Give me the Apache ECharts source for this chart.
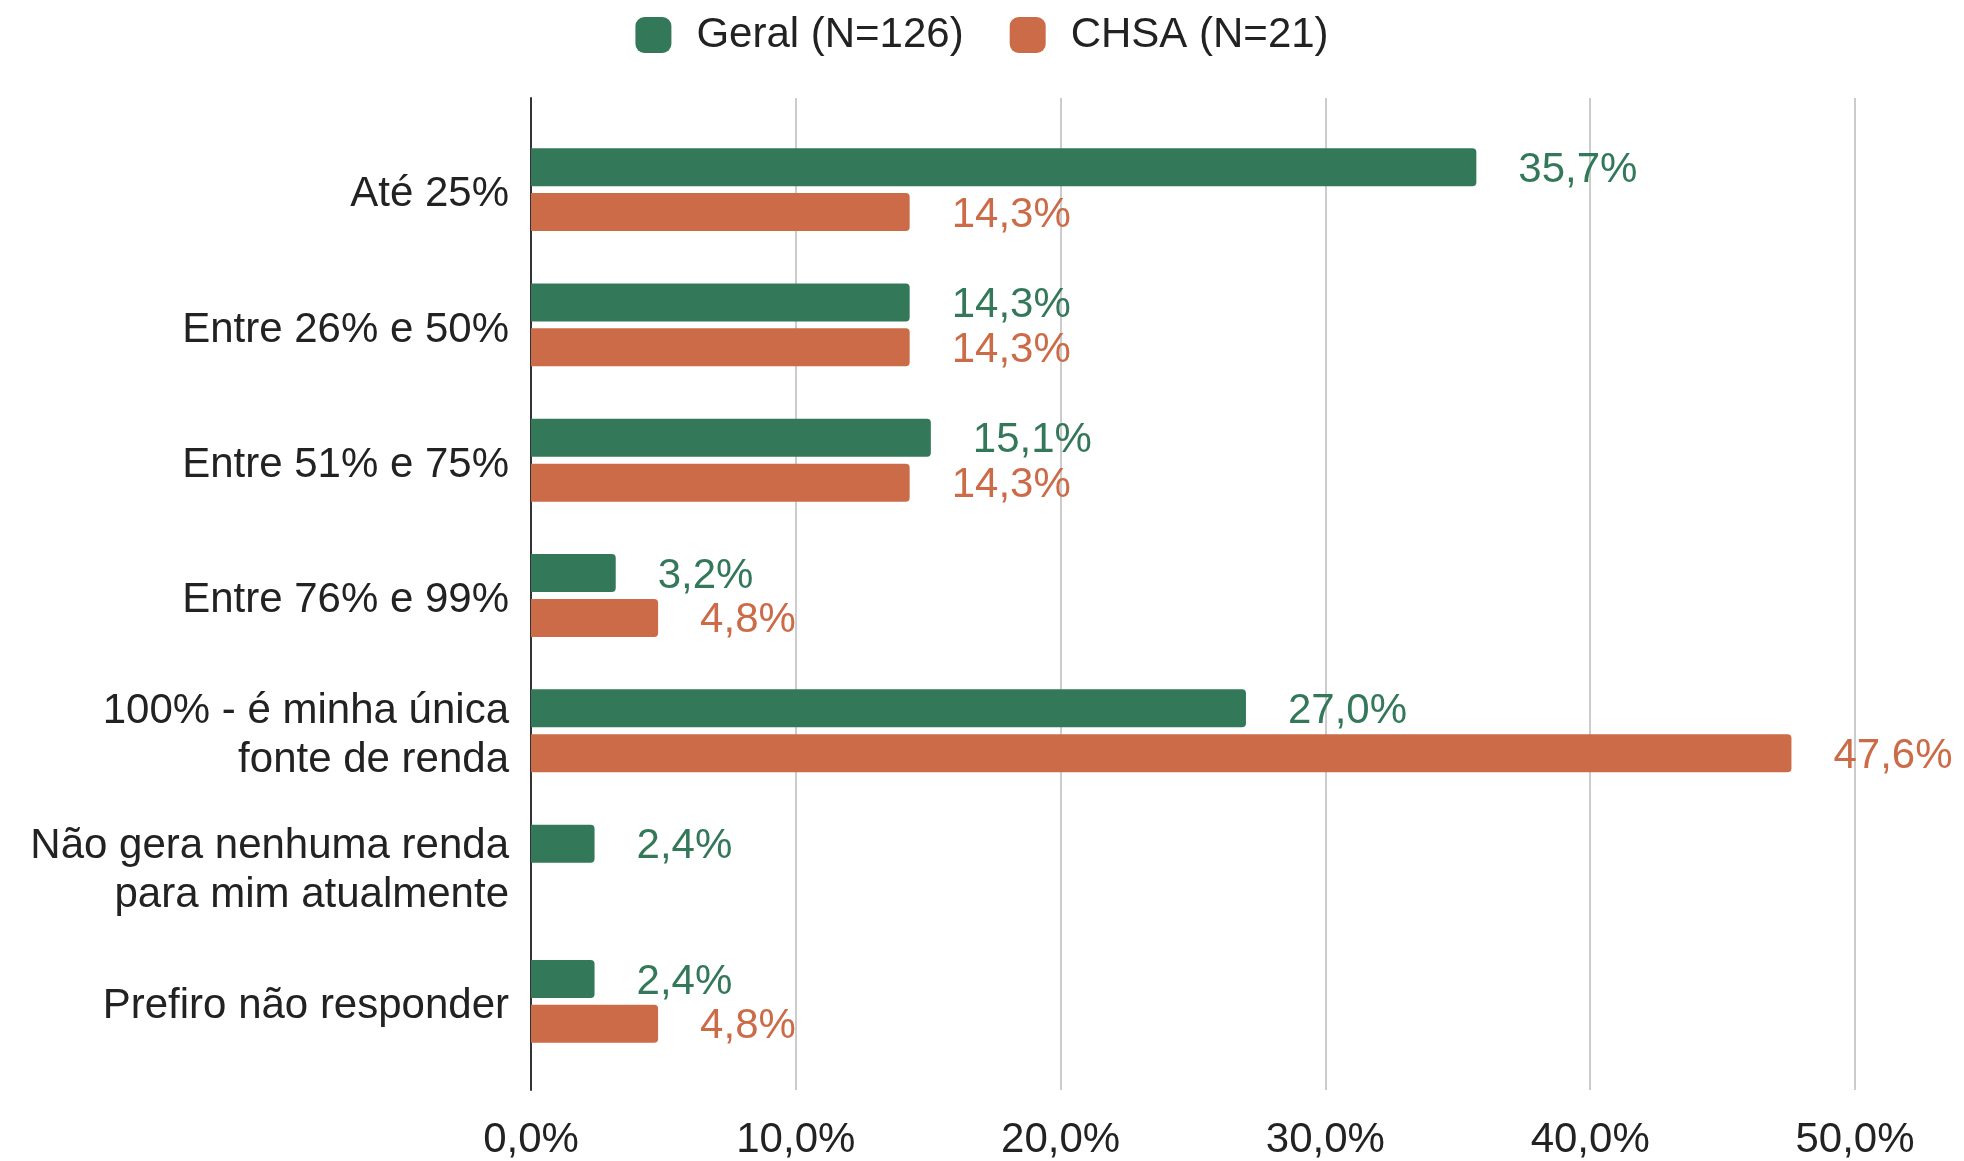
<!DOCTYPE html>
<html>
<head>
<meta charset="utf-8">
<script src="https://cdn.jsdelivr.net/npm/echarts@6/dist/echarts.min.js"></script>
<style>
  html, body { margin: 0; padding: 0; background: #ffffff; }
  #chart { width: 1964px; height: 1161px; }
</style>
</head>
<body>
<div id="chart"></div>
<script>
// dados
const categories = [
  'Até 25%',
  'Entre 26% e 50%',
  'Entre 51% e 75%',
  'Entre 76% e 99%',
  '100% - é minha única\nfonte de renda',
  'Não gera nenhuma renda\npara mim atualmente',
  'Prefiro não responder'
];
const seriesNames = ['Geral (N=126)', 'CHSA (N=21)'];
const geral = [35.7, 14.3, 15.1, 3.2, 27.0, 2.4, 2.4];
const chsa = [14.3, 14.3, 14.3, 4.8, 47.6, null, 4.8];
const xTicks = [0, 10, 20, 30, 40, 50];

const GREEN = '#34785a';
const ORANGE = '#cb6b48';
const FONT = '"Liberation Sans", Arial, sans-serif';

const fmt = v => v.toFixed(1).replace('.', ',') + '%';

const chart = echarts.init(document.getElementById('chart'));

function barSeries(name, data, color) {
  return {
    name: name,
    type: 'bar',
    xAxisIndex: 1,
    yAxisIndex: 1,
    data: data,
    barWidth: 38,
    barGap: '18%',
    itemStyle: { color: color, borderRadius: [0, 4, 4, 0] },
    label: {
      show: true,
      position: 'right',
      distance: 42,
      offset: [0, 3],
      color: color,
      fontFamily: FONT,
      fontSize: 42,
      formatter: p => (p.value == null ? '' : fmt(p.value))
    }
  };
}

const option = {
  backgroundColor: '#ffffff',
  animation: false,
  textStyle: { fontFamily: FONT },
  legend: {
    top: 9,
    left: 'center',
    itemWidth: 36,
    itemHeight: 36,
    itemGap: 46,
    icon: 'roundRect',
    data: seriesNames,
    textStyle: { fontSize: 42, color: '#222', fontFamily: FONT, padding: [0, 0, 0, 20] }
  },
  grid: [
    // moldura com linhas de grade e eixo
    { left: 531, right: 109, top: 98, bottom: 68 },
    // área das barras
    { left: 531, right: 109, top: 122, bottom: 92 },
    // rótulos das categorias (um pouco mais abaixo, como no original)
    { left: 531, right: 109, top: 127, bottom: 87 }
  ],
  xAxis: [
    {
      gridIndex: 0,
      type: 'value',
      min: xTicks[0],
      max: xTicks[xTicks.length - 1],
      interval: 10,
      axisLine: { show: false },
      axisTick: { show: false },
      splitLine: { show: true, showMinLine: false, lineStyle: { color: '#cccccc', width: 2 } },
      axisLabel: { margin: 29, fontSize: 42, color: '#222', fontFamily: FONT, formatter: v => fmt(v) }
    },
    { gridIndex: 1, type: 'value', min: 0, max: 50, show: false },
    { gridIndex: 2, type: 'value', min: 0, max: 50, show: false }
  ],
  yAxis: [
    {
      gridIndex: 0,
      type: 'value',
      min: 0,
      max: 1,
      axisLine: { show: true, lineStyle: { color: '#333333', width: 2 } },
      axisTick: { show: false },
      axisLabel: { show: false },
      splitLine: { show: false }
    },
    {
      gridIndex: 1,
      type: 'category',
      inverse: true,
      data: categories,
      show: false
    },
    {
      gridIndex: 2,
      type: 'category',
      inverse: true,
      data: categories,
      axisLine: { show: false },
      axisTick: { show: false },
      axisLabel: {
        margin: 22,
        fontSize: 42,
        lineHeight: 49,
        color: '#222',
        fontFamily: FONT,
        align: 'right'
      }
    }
  ],
  series: [
    barSeries(seriesNames[0], geral, GREEN),
    barSeries(seriesNames[1], chsa, ORANGE)
  ]
};

chart.setOption(option);
</script>
</body>
</html>
